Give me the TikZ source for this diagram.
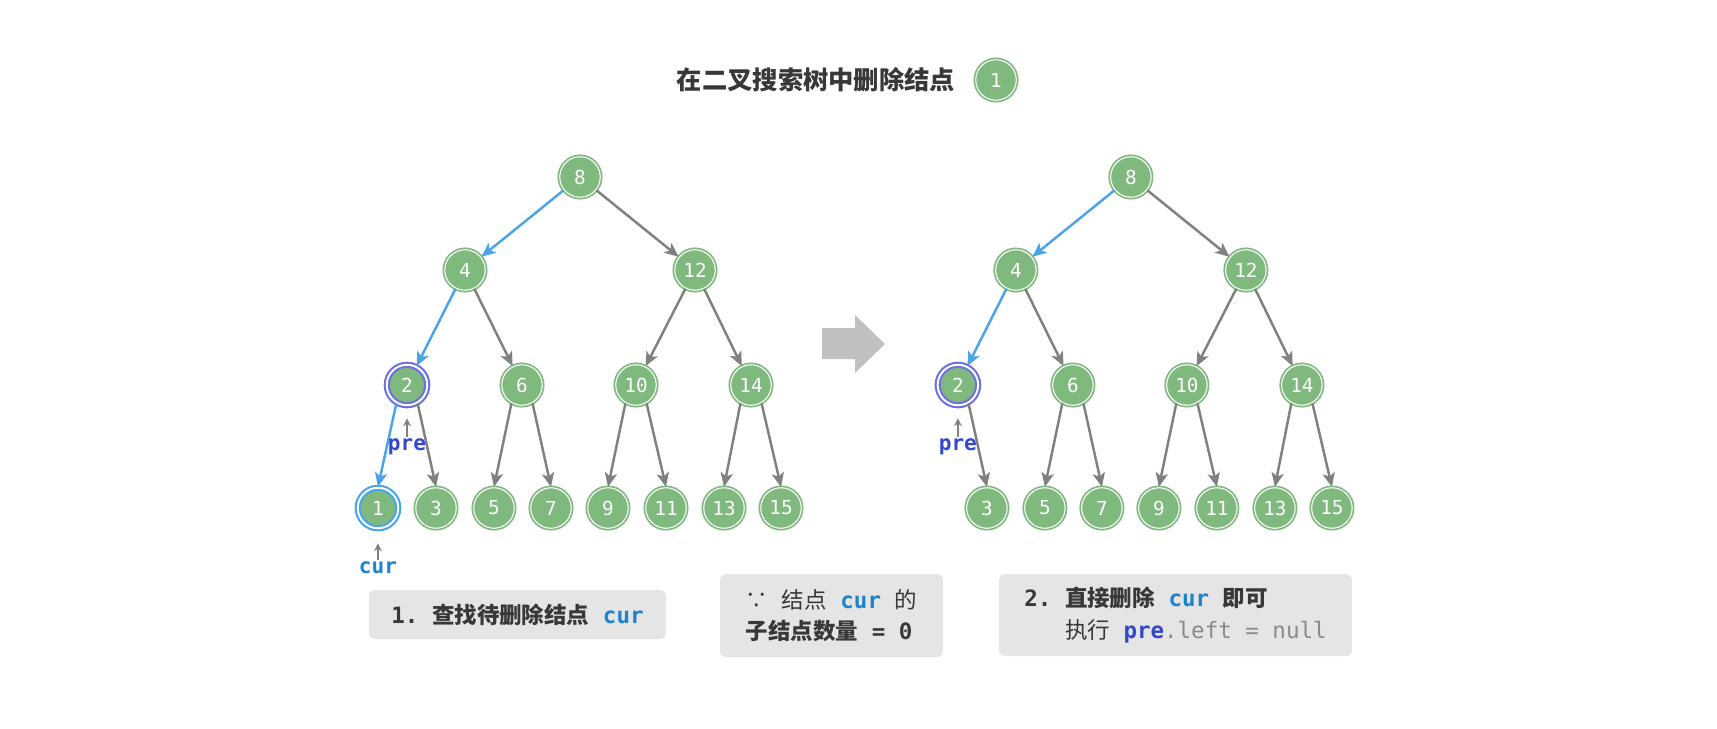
\documentclass[tikz,border=0pt]{standalone}
\usepackage{fontspec}
\setmainfont{Noto Sans CJK SC}
\setmonofont{DejaVu Sans Mono}
\usetikzlibrary{arrows.meta}
\definecolor{nodegreen}{RGB}{128,185,126}
\definecolor{edgegray}{RGB}{128,128,128}
\definecolor{pathblue}{RGB}{75,163,233}
\definecolor{curblue}{RGB}{28,132,204}
\definecolor{previolet}{RGB}{52,72,204}
\definecolor{ringviolet}{RGB}{108,112,224}
\definecolor{ringblue}{RGB}{70,165,236}
\definecolor{boxgray}{RGB}{229,229,229}
\definecolor{inkgray}{RGB}{56,56,56}
\definecolor{nullgray}{RGB}{138,138,138}
\definecolor{blockgray}{RGB}{192,192,192}
\newcommand{\tsp}{\texttt{\ }}

\begin{document}
\begin{tikzpicture}[x=0.02cm, y=-0.02cm,
    tnode/.style={circle, fill=nodegreen, draw=nodegreen, double=white,
                  line width=1pt, double distance=0.6pt, minimum size=0.81cm,
                  inner sep=0pt, text=white,
                  font=\ttfamily\fontsize{11}{12}\selectfont},
    hlnode/.style={tnode, draw=#1, line width=1.2pt, double distance=1.1pt},
    arr/.style={-{Stealth[length=8pt, width=7pt, inset=2pt]},
                line width=1.4pt, edgegray},
    arrhl/.style={arr, pathblue},
    ptr/.style={-{Stealth[length=4.5pt, width=4.5pt, inset=1.5pt]},
                line width=0.8pt, edgegray},
    ptrlbl/.style={font=\ttfamily\bfseries\fontsize{12}{14}\selectfont, inner sep=1pt},
    notebox/.style={fill=boxgray, rounded corners=3pt, text=inkgray,
                    font=\fontsize{12.8}{18}\selectfont, align=left, inner sep=0pt}
  ]
  \useasboundingbox (0,0) rectangle (1717,728);

  % TOP: title
  \node[font=\bfseries\fontsize{14.4}{16}\selectfont, text=inkgray] (title) at (816,80) {在二叉搜索树中删除结点};
  \node[tnode] (t1) at (996,80) {1};

  % LEFT: tree before removal
  \foreach \n/\x/\y in {8/580/177, 4/465/270, 12/695/270, 6/522/385, 10/636/385,
                        14/751/385, 3/436/508, 5/494/508, 7/551/508, 9/608/508,
                        11/666/508, 13/724/508, 15/781/508}
    \node[tnode] (L\n) at (\x,\y) {\n};
  \node[hlnode=ringviolet] (L2) at (407,385) {2};
  \node[hlnode=ringblue] (L1) at (378,508) {1};

  \draw[arrhl] (L8) -- (L4);
  \draw[arrhl] (L4) -- (L2);
  \draw[arrhl] (L2.240) -- (L1.north);
  \draw[arr] (L2.300) -- (L3.north);
  \foreach \a/\b in {8/12, 4/6, 12/10, 12/14}
    \draw[arr] (L\a) -- (L\b);
  \foreach \a/\b/\c in {6/5/7, 10/9/11, 14/13/15} {
    \draw[arr] (L\a.240) -- (L\b.north);
    \draw[arr] (L\a.300) -- (L\c.north);
  }

  \node[ptrlbl, text=previolet] (preL) at (407,447) {pre};
  \draw[ptr, shorten >=0.24cm] (preL.north) -- (L2.south);
  \node[ptrlbl, text=curblue] (curL) at (378,568) {cur};
  \draw[ptr, shorten >=0.28cm] (curL.north) -- (L1.south);

  % MIDDLE: block arrow
  \fill[blockgray] (822,328) -- (855,328) -- (855,315) -- (885,344)
                   -- (855,373) -- (855,359) -- (822,359) -- cycle;

  % RIGHT: tree after removal
  \begin{scope}[xshift=11.02cm]
    \foreach \n/\x/\y in {8/580/177, 4/465/270, 12/695/270, 6/522/385, 10/636/385,
                          14/751/385, 3/436/508, 5/494/508, 7/551/508, 9/608/508,
                          11/666/508, 13/724/508, 15/781/508}
      \node[tnode] (R\n) at (\x,\y) {\n};
    \node[hlnode=ringviolet] (R2) at (407,385) {2};
    \node[ptrlbl, text=previolet] (preR) at (407,447) {pre};
  \end{scope}

  \draw[arrhl] (R8) -- (R4);
  \draw[arrhl] (R4) -- (R2);
  \draw[arr] (R2.300) -- (R3.north);
  \foreach \a/\b in {8/12, 4/6, 12/10, 12/14}
    \draw[arr] (R\a) -- (R\b);
  \foreach \a/\b/\c in {6/5/7, 10/9/11, 14/13/15} {
    \draw[arr] (R\a.240) -- (R\b.north);
    \draw[arr] (R\a.300) -- (R\c.north);
  }
  \draw[ptr, shorten >=0.24cm] (preR.north) -- (R2.south);

  % BOTTOM: notes
  \node[notebox, minimum width=5.94cm, minimum height=0.98cm] (note1) at (517.5,614.5)
    {\bfseries\texttt{1.}\tsp 查找待删除结点\tsp\textcolor{curblue}{\texttt{cur}}};
  \node[notebox, minimum width=4.46cm, minimum height=1.66cm] (note2) at (831.5,615.5)
    {∵\tsp 结点\tsp\textcolor{curblue}{\bfseries\texttt{cur}}\tsp 的\\
     \bfseries 子结点数量\tsp\texttt{= 0}};
  \node[notebox, minimum width=7.06cm, minimum height=1.64cm] (note3) at (1175.5,615)
    {\bfseries\texttt{2.}\tsp 直接删除\tsp\textcolor{curblue}{\texttt{cur}}\tsp 即可\\
     \mdseries\hphantom{\texttt{2.}\tsp}执行\tsp\texttt{\textcolor{previolet}{\bfseries pre}\textcolor{nullgray}{.left = null}}};
\end{tikzpicture}
\end{document}
